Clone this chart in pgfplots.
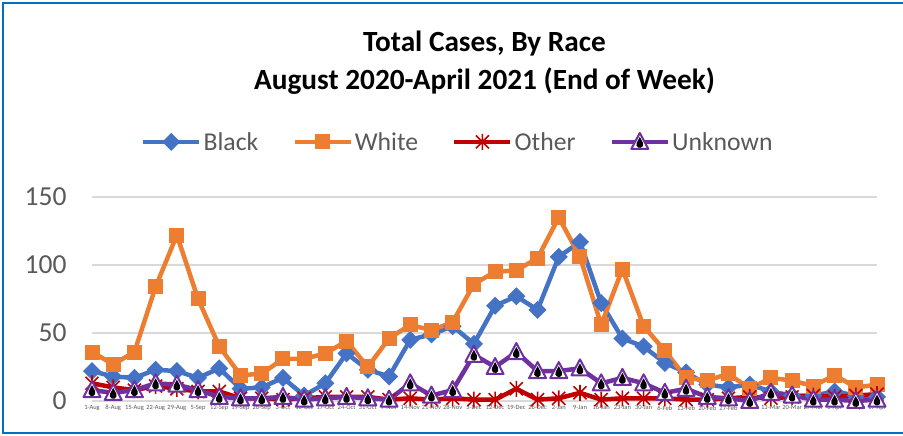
\documentclass[border=0pt]{standalone}
\usepackage{fontspec}
\setmainfont{Carlito}
\usepackage{pgfplots}
\usepackage{pgfplotstable}
\pgfplotsset{compat=1.18}
\definecolor{cblack}{HTML}{4472C4}
\definecolor{cwhite}{HTML}{ED7D31}
\definecolor{cother}{HTML}{C00000}
\definecolor{cunk}{HTML}{7030A0}
\definecolor{gridc}{HTML}{D9D9D9}
\definecolor{txtc}{HTML}{595959}
\definecolor{framec}{HTML}{0070C0}

\pgfdeclareplotmark{xdiamond}{%
  \pgfpathmoveto{\pgfqpoint{0pt}{9bp}}%
  \pgfpathlineto{\pgfqpoint{9bp}{0pt}}%
  \pgfpathlineto{\pgfqpoint{0pt}{-9bp}}%
  \pgfpathlineto{\pgfqpoint{-9bp}{0pt}}%
  \pgfpathclose\pgfusepathqfill}
\pgfdeclareplotmark{xsquare}{%
  \pgfpathrectangle{\pgfqpoint{-7.5bp}{-7.5bp}}{\pgfqpoint{15bp}{15bp}}%
  \pgfusepathqfill}
\pgfdeclareplotmark{xstar}{%
  \pgfsetlinewidth{1.6bp}%
  \pgfpathmoveto{\pgfqpoint{0bp}{8bp}}\pgfpathlineto{\pgfqpoint{0bp}{-8bp}}%
  \pgfpathmoveto{\pgfqpoint{-6.5bp}{6.5bp}}\pgfpathlineto{\pgfqpoint{6.5bp}{-6.5bp}}%
  \pgfpathmoveto{\pgfqpoint{-6.5bp}{-6.5bp}}\pgfpathlineto{\pgfqpoint{6.5bp}{6.5bp}}%
  \pgfusepathqstroke}
\pgfdeclareplotmark{xunk}{%
  \pgfsetlinewidth{2bp}%
  \pgfsetstrokecolor{cunk}\pgfsetfillcolor{white}%
  \pgfsetroundjoin
  \pgfpathmoveto{\pgfqpoint{0bp}{9bp}}%
  \pgfpathlineto{\pgfqpoint{-8.5bp}{-7bp}}%
  \pgfpathlineto{\pgfqpoint{8.5bp}{-7bp}}%
  \pgfpathclose\pgfusepathqfillstroke
  \pgfsetfillcolor{black}%
  \pgfpathmoveto{\pgfqpoint{0bp}{5bp}}%
  \pgfpathlineto{\pgfqpoint{-3.1bp}{-0.87bp}}%
  \pgfpatharc{152.2}{387.8}{3.5bp}%
  \pgfpathclose\pgfusepathqfill}

\pgfplotstableread{
idx label black white other unknown
0 1-Aug 22 36 13 8
1 8-Aug 18 27 10 6
2 15-Aug 17 36 8 8
3 22-Aug 23 84 11 13
4 29-Aug 22 122 9 12
5 5-Sep 17 75 7 8
6 12-Sep 24 40 7 3
7 19-Sep 9 19 2 2
8 26-Sep 10 20 2 2
9 3-Oct 17 31 1 3
10 10-Oct 4 31 2 1
11 17-Oct 13 35 3 2
12 24-Oct 35 44 3 3
13 31-Oct 23 25 3 2
14 7-Nov 18 46 1 1
15 14-Nov 45 56 2 13
16 21-Nov 49 52 1 4
17 28-Nov 55 58 2 8
18 5-Dec 42 86 1 34
19 12-Dec 70 95 1 25
20 19-Dec 77 96 9 36
21 26-Dec 67 105 1 22
22 2-Jan 106 135 2 22
23 9-Jan 117 106 6 24
24 16-Jan 72 56 1 13
25 23-Jan 46 97 2 17
26 30-Jan 40 55 2 13
27 6-Feb 28 37 2 6
28 13-Feb 21 17 1 9
29 20-Feb 12 15 1 3
30 27-Feb 10 20 2 2
31 6-Mar 12 9 3 0
32 13-Mar 7 17 2 6
33 20-Mar 4 15 3 4
34 27-Mar 4 11 4 1
35 3-Apr 7 19 3 1
36 10-Apr 4 10 4 0
37 17-Apr 3 12 5 1
}\data

\begin{document}
\begin{tikzpicture}[x=1bp,y=1bp]
\useasboundingbox (0,0) rectangle (903,436);
\draw[framec, line width=2.5bp] (903,3) -- (3,3) -- (3,433) -- (903,433);
\begin{axis}[
  at={(92bp,35bp)}, anchor=south west,
  scale only axis, width=785bp, height=204bp,
  xmin=0, xmax=37, ymin=0, ymax=150,
  clip=false,
  axis line style={draw=none},
  major tick length=0pt,
  ytick={0,50,100,150},
  ymajorgrids, grid style={gridc, line width=1.3bp},
  xtick={0,...,37},
  xticklabels from table={\data}{label},
  xticklabel style={font=\fontsize{6.5}{7}\selectfont, text=txtc, yshift=-1bp},
  yticklabel style={font=\fontsize{27.6}{30}\selectfont, text=txtc, xshift=-22bp},
  /pgf/number format/assume math mode=true,
  legend columns=4,
  legend style={draw=none, fill=none, at={(axis description cs:0.466,1.27)}, anchor=center,
    font=\fontsize{25.8}{30}\selectfont, text=txtc,
    /tikz/every even column/.append style={column sep=32bp}},
  legend image code/.code={\draw[mark repeat=2,mark phase=2] plot coordinates {(0bp,0bp)(28bp,0bp)(56bp,0bp)};},
  every axis plot/.append style={line width=4.5bp, line join=round},
]
\addplot[cblack, mark=xdiamond] table[x=idx,y=black]{\data};
\addplot[cwhite, mark=xsquare] table[x=idx,y=white]{\data};
\addplot[cother, mark=xstar] table[x=idx,y=other]{\data};
\addplot[cunk, mark=xunk] table[x=idx,y=unknown]{\data};
\legend{Black, White, Other, Unknown}
\end{axis}
\node[anchor=base, font=\bfseries\fontsize{29.4}{34}\selectfont] at (484.5,384) {Total Cases, By Race};
\node[anchor=base, font=\bfseries\fontsize{29.4}{34}\selectfont] at (484.5,346) {August 2020-April 2021 (End of Week)};
\end{tikzpicture}
\end{document}
